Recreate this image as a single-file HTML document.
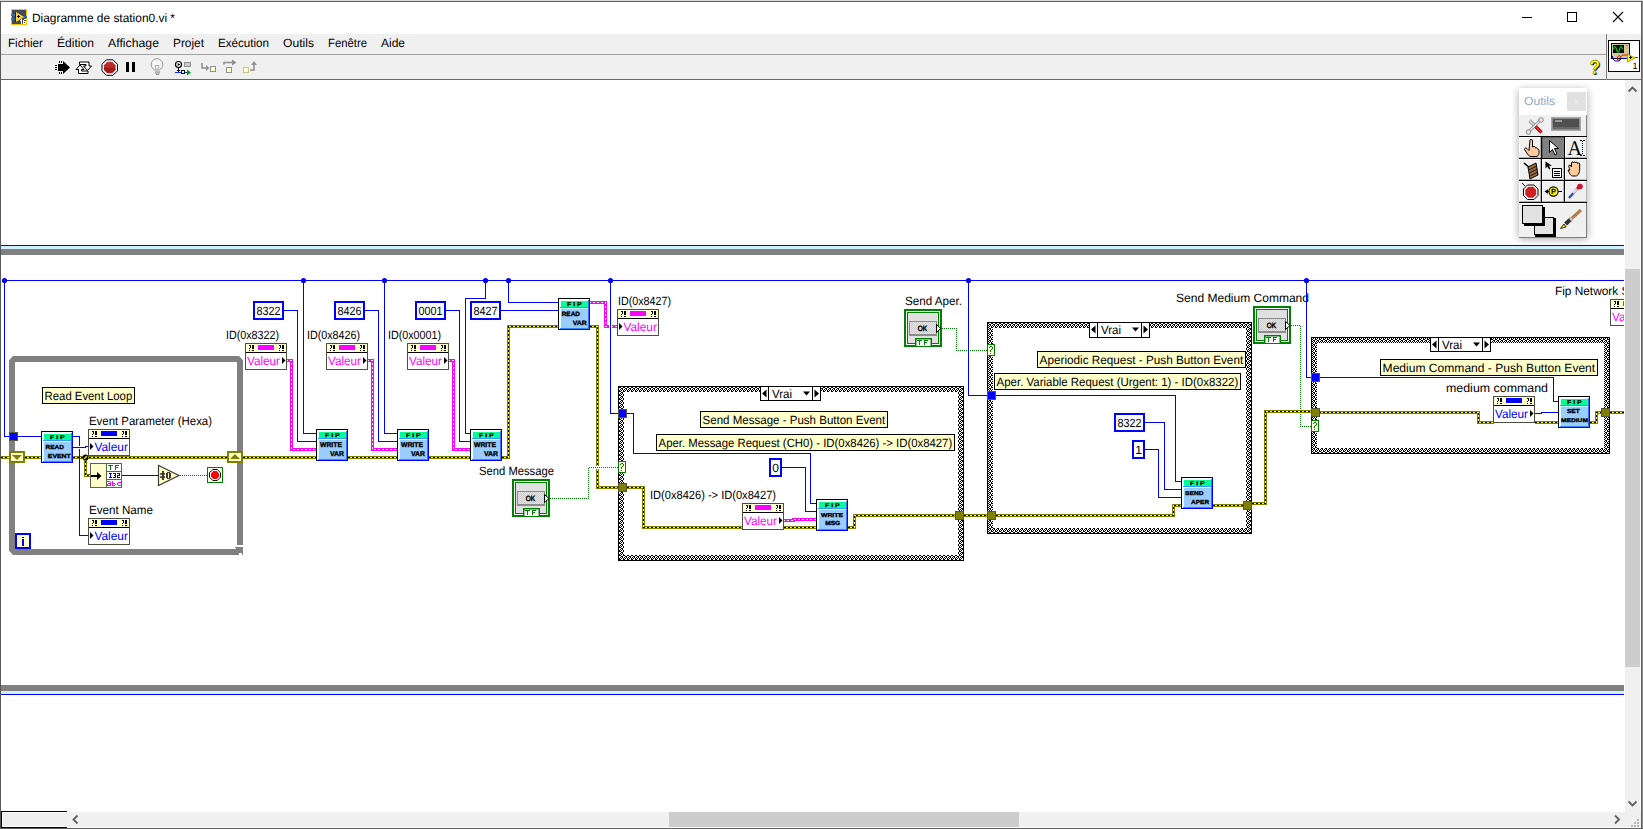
<!DOCTYPE html><html><head><meta charset="utf-8"><title>Diagramme de station0.vi</title><style>html,body{margin:0;padding:0;background:#fff;overflow:hidden}svg{display:block}</style></head><body><svg width="1643" height="829" viewBox="0 0 1643 829" shape-rendering="crispEdges" font-family="Liberation Sans, sans-serif" text-rendering="geometricPrecision">
<defs>
<pattern id="chk" x="0" y="3" width="4" height="4" patternUnits="userSpaceOnUse"><rect width="4" height="4" fill="#fff"/><path d="M0 0h1v1h-1zM3 0h1v1h-1zM1 1h2v1h-2zM0 2h1v1h-1zM2 2h1v1h-1zM1 3h1v1h-1zM3 3h1v1h-1z" fill="#000"/></pattern>
<pattern id="dith" width="2" height="2" patternUnits="userSpaceOnUse"><rect width="2" height="2" fill="#e6e6e6"/><rect width="1" height="1" fill="#cccccc"/><rect x="1" y="1" width="1" height="1" fill="#cccccc"/></pattern>
<filter id="sh" x="-30%" y="-20%" width="160%" height="140%"><feGaussianBlur stdDeviation="4"/></filter>
<linearGradient id="redg" x1="0" y1="0" x2="0" y2="1"><stop offset="0" stop-color="#c03030"/><stop offset="0.5" stop-color="#b82828"/><stop offset="0.55" stop-color="#9c1818"/><stop offset="1" stop-color="#a82020"/></linearGradient>
</defs>
<rect x="0" y="0" width="1643" height="829" fill="#fff" />
<rect x="1" y="34" width="1640" height="45" fill="#f0f0f0" />
<rect x="1" y="54" width="1605" height="1" fill="#a0a0a0" />
<rect x="1" y="79" width="1640" height="1" fill="#696969" />
<rect x="1606" y="34" width="1" height="46" fill="#808080" />
<rect x="0" y="0" width="1643" height="1" fill="#d9d9d9" />
<rect x="0" y="1" width="1643" height="1" fill="#636363" />
<rect x="0" y="1" width="1" height="829" fill="#585858" />
<rect x="1640" y="80" width="1" height="747" fill="#f8f8f8" />
<rect x="1641" y="1" width="1" height="829" fill="#606060" />
<rect x="1642" y="1" width="1" height="829" fill="#8c8c8c" />
<rect x="1" y="827" width="1640" height="1" fill="#fafafa" />
<rect x="0" y="828" width="1643" height="1" fill="#606060" />
<rect x="11" y="9" width="16" height="16" fill="#ffc000" />
<rect x="12" y="10" width="14" height="14" fill="#454a55" />
<rect x="11" y="14" width="4" height="2" fill="#2a6fb5" />
<rect x="11" y="18" width="4" height="2" fill="#2a6fb5" />
<rect x="23" y="16" width="4" height="2" fill="#2a6fb5" />
<rect x="15" y="12" width="1" height="10" fill="#222" />
<polygon points="16,12 16,22 24,17" fill="#ffd23c" shape-rendering="auto"/>
<rect x="17" y="16" width="3" height="1" fill="#000" />
<rect x="18" y="15" width="1" height="3" fill="#000" />
<rect x="21" y="19" width="1" height="5" fill="#fff" />
<rect x="20" y="20" width="1" height="1" fill="#fff" />
<rect x="24" y="19" width="2" height="1" fill="#fff" />
<rect x="23" y="20" width="1" height="4" fill="#fff" />
<rect x="24" y="21" width="2" height="1" fill="#fff" />
<rect x="25" y="22" width="1" height="1" fill="#fff" />
<rect x="24" y="23" width="2" height="1" fill="#fff" />
<text x="32" y="22" font-size="12" fill="#000" textLength="143" lengthAdjust="spacingAndGlyphs" >Diagramme de station0.vi *</text>
<rect x="1522" y="17" width="10" height="1" fill="#000" />
<rect x="1567.5" y="12.5" width="9" height="9" fill="none" stroke="#000" stroke-width="1"/>
<path d="M1613 12l10 10M1623 12l-10 10" stroke="#000" stroke-width="1.1" fill="none" shape-rendering="auto"/>
<text x="8" y="47" font-size="12" fill="#000" textLength="35" lengthAdjust="spacingAndGlyphs" >Fichier</text>
<text x="57" y="47" font-size="12" fill="#000" textLength="37" lengthAdjust="spacingAndGlyphs" >Édition</text>
<text x="108" y="47" font-size="12" fill="#000" textLength="51" lengthAdjust="spacingAndGlyphs" >Affichage</text>
<text x="173" y="47" font-size="12" fill="#000" textLength="31" lengthAdjust="spacingAndGlyphs" >Projet</text>
<text x="218" y="47" font-size="12" fill="#000" textLength="51" lengthAdjust="spacingAndGlyphs" >Exécution</text>
<text x="283" y="47" font-size="12" fill="#000" textLength="31" lengthAdjust="spacingAndGlyphs" >Outils</text>
<text x="328" y="47" font-size="12" fill="#000" textLength="39" lengthAdjust="spacingAndGlyphs" >Fenêtre</text>
<text x="381" y="47" font-size="12" fill="#000" textLength="24" lengthAdjust="spacingAndGlyphs" >Aide</text>
<path d="M58 64h5v-3l7 6.5l-7 6.5v-3h-5z" fill="#000" shape-rendering="auto"/>
<rect x="55" y="65" width="2" height="1" fill="#000" />
<rect x="55" y="67" width="2" height="1" fill="#000" />
<rect x="55" y="69" width="2" height="1" fill="#000" />
<rect x="59" y="61" width="1" height="2" fill="#000" />
<rect x="61" y="61" width="1" height="2" fill="#000" />
<rect x="59" y="72" width="1" height="2" fill="#000" />
<rect x="61" y="72" width="1" height="2" fill="#000" />
<g shape-rendering="auto" fill="#fff" stroke="#000" stroke-width="1"><path d="M79.500 62h9.500v4h2.500l-4 4.500l-4-4.500h2.500v-1.500h-6.500z"/><path d="M88 73.500h-9.500v-4h-2.500l4-4.500l4 4.500h-2.500v1.500h6.500z"/></g>
<g shape-rendering="auto"><polygon points="106.5,59.800 113,59.800 117.500,64.300 117.500,70.800 113,75.300 106.500,75.300 102,70.800 102,64.300" fill="#fff" stroke="#000" stroke-width="1"/><polygon points="107.300,61.800 112.200,61.800 115.600,65.200 115.600,69.900 112.200,73.300 107.300,73.300 103.900,69.900 103.900,65.200" fill="url(#redg)"/></g>
<rect x="126" y="62" width="3" height="10" fill="#000" />
<rect x="132" y="62" width="3" height="10" fill="#000" />
<g shape-rendering="auto" fill="none" stroke="#9a9a9a" stroke-width="1"><path d="M154.500 70c-2-1.500-3.300-3-3.300-5.500a5.800 5.800 0 0 1 11.600 0c0 2.500-1.300 4-3.300 5.500z" fill="#f4f4f4"/><path d="M155 65.500l1 4.500M159 65.500l-1 4.500M155 65.500h4" stroke="#b0b0b0"/></g>
<rect x="155" y="71" width="5" height="1" fill="#e8c040" />
<rect x="155" y="72" width="5" height="1" fill="#b0b0b0" />
<rect x="155" y="73" width="5" height="1" fill="#e8c040" />
<rect x="156" y="74" width="3" height="1" fill="#909090" />
<g shape-rendering="auto"><circle cx="178.500" cy="64.500" r="3" fill="#fff" stroke="#000" stroke-width="1.200"/><polygon points="177.700,63 180.300,64.500 177.700,66" fill="#000"/></g>
<rect x="178" y="68" width="1" height="4" fill="#000" />
<rect x="177" y="70" width="3" height="1" fill="#000" />
<rect x="184" y="62" width="7" height="5" fill="#909090" />
<rect x="185" y="63" width="5" height="3" fill="#c8c8c8" />
<rect x="175" y="72" width="12" height="1" fill="#0033ff" />
<rect x="181" y="70" width="4" height="4" fill="#000" />
<rect x="182" y="71" width="2" height="2" fill="#fff" />
<polygon points="187,69.500 191,72.500 187,75.500" fill="#00a000" shape-rendering="auto"/>
<g shape-rendering="auto" fill="none" stroke="#909090" stroke-width="1.600"><path d="M202 63v5h5"/><path d="M224 64.500v-2h9"/><path d="M250 70h4v-6"/></g>
<g shape-rendering="auto" fill="#909090"><polygon points="206,65 209.500,68 206,71"/><polygon points="232,59.500 236.500,62.500 232,65.500"/><polygon points="251,65 254,61 257,65"/></g>
<rect x="210" y="66" width="6" height="6" fill="#909090" />
<rect x="211" y="67" width="4" height="4" fill="#ffffcc" />
<rect x="226" y="67" width="6" height="6" fill="#909090" />
<rect x="227" y="68" width="4" height="4" fill="#ffffcc" />
<rect x="243" y="67" width="6" height="6" fill="#c8c890" />
<rect x="244" y="68" width="4" height="4" fill="#ffffcc" />
<text x="1590.6" y="74.6" font-size="20" fill="#222" textLength="10.5" lengthAdjust="spacingAndGlyphs" font-weight="bold" >?</text>
<text x="1589.6" y="73.6" font-size="20" fill="#ffff00" textLength="10.5" lengthAdjust="spacingAndGlyphs" font-weight="bold" stroke="#555500" stroke-width="0.400">?</text>
<rect x="1608" y="40" width="32" height="32" fill="#000" />
<rect x="1609" y="41" width="30" height="30" fill="#fff" />
<rect x="1611" y="43" width="19" height="16" fill="#000" />
<rect x="1612" y="44" width="17" height="14" fill="#cccc99" />
<rect x="1613" y="45" width="11" height="8" fill="#000" />
<path d="M1613.500 49.500q1.500-6 3 0t3 0t3 0" fill="none" stroke="#00d020" stroke-width="1.200" shape-rendering="auto"/>
<rect x="1626" y="46" width="2" height="3" fill="#e8b080" />
<rect x="1626" y="45" width="1" height="1" fill="#888" />
<rect x="1627" y="45" width="1" height="1" fill="#888" />
<path d="M1612.500 56v2.500l2.500 2.500h4l2.500-2.500" fill="none" stroke="#0000c0" stroke-width="1" shape-rendering="auto"/>
<path d="M1617.500 60c-1-3 2-6 3-3.500s-2 4-3 3.500M1620 57.500l2.500-2.500h5" fill="none" stroke="#ff0000" stroke-width="1" shape-rendering="auto"/>
<rect x="1620" y="58" width="8" height="1" fill="#0000a0" />
<polygon points="1627.500,54 1627.500,62 1635,58" fill="#ffff00" stroke="#a0a000" stroke-width="1" shape-rendering="auto"/>
<rect x="1629" y="57" width="3" height="1" fill="#000" />
<rect x="1630" y="56" width="1" height="3" fill="#000" />
<rect x="1635" y="57" width="3" height="1" fill="#ff0000" />
<text x="1632.5" y="69" font-size="9" fill="#000" >1</text>
<rect x="1625" y="80" width="15" height="732" fill="#f0f0f0" />
<rect x="1625" y="269" width="15" height="398" fill="#cdcdcd" />
<path d="M1628.500 91.500l4-4l4 4" fill="none" stroke="#606060" stroke-width="1.800" shape-rendering="auto"/>
<path d="M1628.500 801.500l4 4l4-4" fill="none" stroke="#606060" stroke-width="1.800" shape-rendering="auto"/>
<rect x="1" y="812" width="1640" height="15" fill="#f0f0f0" />
<rect x="669" y="812" width="350" height="15" fill="#cdcdcd" />
<path d="M77.500 815.500l-4 4l4 4" fill="none" stroke="#606060" stroke-width="1.800" shape-rendering="auto"/>
<path d="M1615 815.500l4 4l-4 4" fill="none" stroke="#606060" stroke-width="1.800" shape-rendering="auto"/>
<rect x="1" y="811" width="66" height="17" fill="#000" />
<rect x="2" y="812" width="65" height="15" fill="#fff" />
<rect x="3" y="813" width="64" height="13" fill="#efefef" />
<rect x="1637" y="819" width="2" height="2" fill="#b4b4b4" />
<rect x="1634" y="822" width="2" height="2" fill="#b4b4b4" />
<rect x="1637" y="822" width="2" height="2" fill="#b4b4b4" />
<rect x="1631" y="825" width="2" height="2" fill="#b4b4b4" />
<rect x="1634" y="825" width="2" height="2" fill="#b4b4b4" />
<rect x="1637" y="825" width="2" height="2" fill="#b4b4b4" />
<clipPath id="dclip"><rect x="1" y="80" width="1623" height="731"/></clipPath>
<g clip-path="url(#dclip)">
<rect x="1" y="245" width="1623" height="1" fill="#0000ff" />
<rect x="1" y="246" width="1623" height="3" fill="#d0f0ff" />
<rect x="1" y="249" width="1623" height="6" fill="#808080" />
<rect x="1" y="685" width="1623" height="6" fill="#808080" />
<rect x="1" y="691" width="1623" height="3" fill="#d0f0ff" />
<rect x="1" y="694" width="1623" height="1" fill="#0000ff" />
<polyline points="4.5,437 4.5,280.5 1631,280.5" fill="none" stroke-linejoin="miter" stroke-linecap="butt" stroke="#0000ff" stroke-width="1"/>
<polyline points="4,436.5 10,436.5" fill="none" stroke-linejoin="miter" stroke-linecap="butt" stroke="#0000ff" stroke-width="1"/>
<circle cx="4.5" cy="280.5" r="2.6" fill="#0000ff" shape-rendering="auto"/>
<circle cx="303.5" cy="280.5" r="2.6" fill="#0000ff" shape-rendering="auto"/>
<circle cx="384.5" cy="280.5" r="2.6" fill="#0000ff" shape-rendering="auto"/>
<circle cx="485.5" cy="280.5" r="2.6" fill="#0000ff" shape-rendering="auto"/>
<circle cx="508.5" cy="280.5" r="2.6" fill="#0000ff" shape-rendering="auto"/>
<circle cx="610.5" cy="280.5" r="2.6" fill="#0000ff" shape-rendering="auto"/>
<circle cx="968.5" cy="280.5" r="2.6" fill="#0000ff" shape-rendering="auto"/>
<circle cx="1306.5" cy="280.5" r="2.6" fill="#0000ff" shape-rendering="auto"/>
<rect x="9" y="356" width="234" height="6" fill="#808080" />
<rect x="9" y="356" width="6" height="199" fill="#808080" />
<rect x="9" y="549" width="234" height="6" fill="#808080" />
<rect x="237" y="356" width="6" height="189" fill="#808080" />
<rect x="236" y="547" width="7" height="8" fill="#808080" />
<rect x="239" y="553" width="3" height="2" fill="#fff" />
<rect x="235" y="547" width="2" height="1" fill="#808080" />
<g shape-rendering="auto" fill="#fff"><polygon points="8,355 13.800,355 8,361.500"/><polygon points="244,355 238.200,355 244,361.500"/><polygon points="8,556 13.800,556 8,549.500"/></g>
<polyline points="1,457.5 10,457.5" fill="none" stroke-linejoin="miter" stroke-linecap="butt" stroke="#808000" stroke-width="3"/>
<polyline points="1,457.5 10,457.5" fill="none" stroke-linejoin="miter" stroke-linecap="butt" stroke="#ffff00" stroke-width="1"/>
<polyline points="1,457.5 10,457.5" fill="none" stroke-linejoin="miter" stroke-linecap="butt" stroke="#000" stroke-width="1" stroke-dasharray="2 2"/>
<polyline points="25,457.5 42,457.5" fill="none" stroke-linejoin="miter" stroke-linecap="butt" stroke="#808000" stroke-width="3"/>
<polyline points="25,457.5 42,457.5" fill="none" stroke-linejoin="miter" stroke-linecap="butt" stroke="#ffff00" stroke-width="1"/>
<polyline points="25,457.5 42,457.5" fill="none" stroke-linejoin="miter" stroke-linecap="butt" stroke="#000" stroke-width="1" stroke-dasharray="2 2"/>
<polyline points="73,457.5 228,457.5" fill="none" stroke-linejoin="miter" stroke-linecap="butt" stroke="#808000" stroke-width="3"/>
<polyline points="73,457.5 228,457.5" fill="none" stroke-linejoin="miter" stroke-linecap="butt" stroke="#ffff00" stroke-width="1"/>
<polyline points="73,457.5 228,457.5" fill="none" stroke-linejoin="miter" stroke-linecap="butt" stroke="#000" stroke-width="1" stroke-dasharray="2 2"/>
<polyline points="85.5,457 85.5,475.5 91,475.5" fill="none" stroke-linejoin="miter" stroke-linecap="butt" stroke="#808000" stroke-width="3"/>
<polyline points="85.5,457 85.5,475.5 91,475.5" fill="none" stroke-linejoin="miter" stroke-linecap="butt" stroke="#ffff00" stroke-width="1"/>
<polyline points="85.5,457 85.5,475.5 91,475.5" fill="none" stroke-linejoin="miter" stroke-linecap="butt" stroke="#000" stroke-width="1" stroke-dasharray="2 2"/>
<polyline points="243,457.5 317,457.5" fill="none" stroke-linejoin="miter" stroke-linecap="butt" stroke="#808000" stroke-width="3"/>
<polyline points="243,457.5 317,457.5" fill="none" stroke-linejoin="miter" stroke-linecap="butt" stroke="#ffff00" stroke-width="1"/>
<polyline points="243,457.5 317,457.5" fill="none" stroke-linejoin="miter" stroke-linecap="butt" stroke="#000" stroke-width="1" stroke-dasharray="2 2"/>
<polyline points="348,457.5 398,457.5" fill="none" stroke-linejoin="miter" stroke-linecap="butt" stroke="#808000" stroke-width="3"/>
<polyline points="348,457.5 398,457.5" fill="none" stroke-linejoin="miter" stroke-linecap="butt" stroke="#ffff00" stroke-width="1"/>
<polyline points="348,457.5 398,457.5" fill="none" stroke-linejoin="miter" stroke-linecap="butt" stroke="#000" stroke-width="1" stroke-dasharray="2 2"/>
<polyline points="429,457.5 471,457.5" fill="none" stroke-linejoin="miter" stroke-linecap="butt" stroke="#808000" stroke-width="3"/>
<polyline points="429,457.5 471,457.5" fill="none" stroke-linejoin="miter" stroke-linecap="butt" stroke="#ffff00" stroke-width="1"/>
<polyline points="429,457.5 471,457.5" fill="none" stroke-linejoin="miter" stroke-linecap="butt" stroke="#000" stroke-width="1" stroke-dasharray="2 2"/>
<polyline points="502,457.5 508.5,457.5 508.5,326.5 559,326.5" fill="none" stroke-linejoin="miter" stroke-linecap="butt" stroke="#808000" stroke-width="3"/>
<polyline points="502,457.5 508.5,457.5 508.5,326.5 559,326.5" fill="none" stroke-linejoin="miter" stroke-linecap="butt" stroke="#ffff00" stroke-width="1"/>
<polyline points="502,457.5 508.5,457.5 508.5,326.5 559,326.5" fill="none" stroke-linejoin="miter" stroke-linecap="butt" stroke="#000" stroke-width="1" stroke-dasharray="2 2"/>
<polyline points="590,326.5 597.5,326.5 597.5,487.5 619,487.5" fill="none" stroke-linejoin="miter" stroke-linecap="butt" stroke="#808000" stroke-width="3"/>
<polyline points="590,326.5 597.5,326.5 597.5,487.5 619,487.5" fill="none" stroke-linejoin="miter" stroke-linecap="butt" stroke="#ffff00" stroke-width="1"/>
<polyline points="590,326.5 597.5,326.5 597.5,487.5 619,487.5" fill="none" stroke-linejoin="miter" stroke-linecap="butt" stroke="#000" stroke-width="1" stroke-dasharray="2 2"/>
<circle cx="85.500" cy="457.500" r="2.900" fill="#000" shape-rendering="auto"/>
<path d="M84.200 458.800l2.600-2.600" stroke="#ffff00" stroke-width="1.300" shape-rendering="auto"/>
<polyline points="17,436.5 42,436.5" fill="none" stroke-linejoin="miter" stroke-linecap="butt" stroke="#0000ff" stroke-width="1"/>
<polyline points="73,436.5 79.5,436.5 79.5,535.5 89,535.5" fill="none" stroke-linejoin="miter" stroke-linecap="butt" stroke="#0000ff" stroke-width="1"/>
<rect x="79" y="446" width="1" height="3" fill="#fff" />
<polyline points="73,447.5 85.5,447.5 85.5,446.5 89,446.5" fill="none" stroke-linejoin="miter" stroke-linecap="butt" stroke="#0000ff" stroke-width="1"/>
<polyline points="122,475.5 159,475.5" fill="none" stroke-linejoin="miter" stroke-linecap="butt" stroke="#0000ff" stroke-width="1"/>
<polyline points="180,475.5 208,475.5" fill="none" stroke-linejoin="miter" stroke-linecap="butt" stroke="#008000" stroke-width="1" stroke-dasharray="1 1"/>
<rect x="9" y="451" width="16" height="12" fill="#808000" />
<rect x="11" y="453" width="12" height="8" fill="#ffffcc" />
<polygon points="12,455 22,455 17,460" fill="#808000" shape-rendering="auto"/>
<rect x="227" y="451" width="16" height="12" fill="#808000" />
<rect x="229" y="453" width="12" height="8" fill="#ffffcc" />
<polygon points="230,459 240,459 235,454" fill="#808000" shape-rendering="auto"/>
<rect x="41" y="431" width="32" height="32" fill="#99ccff" />
<rect x="41" y="431" width="32" height="1" fill="#000" />
<rect x="41" y="431" width="1" height="32" fill="#000" />
<rect x="42" y="432" width="30" height="2" fill="#ffffff" />
<rect x="42" y="432" width="2" height="30" fill="#e6ffff" />
<rect x="44" y="434" width="27" height="6" fill="#00ff99" />
<rect x="43" y="440" width="28" height="1" fill="#3399ff" />
<rect x="43" y="441" width="28" height="1" fill="#ccffff" />
<rect x="71" y="433" width="1" height="29" fill="#3a6cff" />
<rect x="43" y="461" width="29" height="1" fill="#3388ff" />
<rect x="72" y="432" width="1" height="31" fill="#0000ff" />
<rect x="42" y="462" width="31" height="1" fill="#0000ff" />
<text x="50" y="439" font-size="5.5" fill="#000" textLength="14.7" lengthAdjust="spacingAndGlyphs" font-weight="bold" stroke="#000" stroke-width="0.3">F I P</text>
<text x="45.4" y="448.7" font-size="6" fill="#000" textLength="18.6" lengthAdjust="spacingAndGlyphs" font-weight="bold" stroke="#000" stroke-width="0.35">READ</text>
<text x="47.8" y="457.8" font-size="6" fill="#000" textLength="23" lengthAdjust="spacingAndGlyphs" font-weight="bold" stroke="#000" stroke-width="0.35">EVENT</text>
<rect x="42" y="387" width="93" height="17" fill="#000" />
<rect x="43" y="388" width="91" height="15" fill="#ffffcc" />
<text x="44.6" y="400" font-size="12" fill="#000" textLength="87.6" lengthAdjust="spacingAndGlyphs" >Read Event Loop</text>
<text x="89" y="425" font-size="12" fill="#000" textLength="123" lengthAdjust="spacingAndGlyphs" >Event Parameter (Hexa)</text>
<rect x="88" y="429" width="42" height="27" fill="#4d4d40" />
<rect x="89" y="430" width="40" height="8" fill="#ffffcc" />
<rect x="101" y="430" width="16" height="8" fill="#fff" />
<rect x="101" y="431" width="16" height="5" fill="#0000ff" />
<rect x="89" y="438" width="40" height="1" fill="#000" />
<rect x="89" y="439" width="40" height="16" fill="#fff" />
<rect x="92" y="431" width="2" height="1" fill="#000" />
<rect x="93" y="432" width="1" height="2" fill="#000" />
<rect x="92" y="434" width="1" height="1" fill="#000" />
<rect x="92" y="436" width="1" height="1" fill="#000" />
<rect x="95" y="431" width="2" height="4" fill="#000" />
<rect x="95" y="436" width="2" height="1" fill="#000" />
<rect x="122" y="431" width="2" height="1" fill="#000" />
<rect x="123" y="432" width="1" height="2" fill="#000" />
<rect x="122" y="434" width="1" height="1" fill="#000" />
<rect x="122" y="436" width="1" height="1" fill="#000" />
<rect x="125" y="431" width="2" height="4" fill="#000" />
<rect x="125" y="436" width="2" height="1" fill="#000" />
<text x="94.4" y="451" font-size="12" fill="#0000ff" textLength="33.5" lengthAdjust="spacingAndGlyphs" >Valeur</text>
<polygon points="90,443 93.5,446.5 90,450" fill="#000" shape-rendering="auto"/>
<text x="89" y="513.7" font-size="12" fill="#000" textLength="64" lengthAdjust="spacingAndGlyphs" >Event Name</text>
<rect x="88" y="518" width="42" height="27" fill="#4d4d40" />
<rect x="89" y="519" width="40" height="8" fill="#ffffcc" />
<rect x="101" y="519" width="16" height="8" fill="#fff" />
<rect x="101" y="520" width="16" height="5" fill="#0000ff" />
<rect x="89" y="527" width="40" height="1" fill="#000" />
<rect x="89" y="528" width="40" height="16" fill="#fff" />
<rect x="92" y="520" width="2" height="1" fill="#000" />
<rect x="93" y="521" width="1" height="2" fill="#000" />
<rect x="92" y="523" width="1" height="1" fill="#000" />
<rect x="92" y="525" width="1" height="1" fill="#000" />
<rect x="95" y="520" width="2" height="4" fill="#000" />
<rect x="95" y="525" width="2" height="1" fill="#000" />
<rect x="122" y="520" width="2" height="1" fill="#000" />
<rect x="123" y="521" width="1" height="2" fill="#000" />
<rect x="122" y="523" width="1" height="1" fill="#000" />
<rect x="122" y="525" width="1" height="1" fill="#000" />
<rect x="125" y="520" width="2" height="4" fill="#000" />
<rect x="125" y="525" width="2" height="1" fill="#000" />
<text x="94.4" y="540" font-size="12" fill="#0000ff" textLength="33.5" lengthAdjust="spacingAndGlyphs" >Valeur</text>
<polygon points="90,532 93.5,535.5 90,539" fill="#000" shape-rendering="auto"/>
<rect x="90" y="463" width="32" height="25" fill="#606050" />
<rect x="91" y="464" width="15" height="23" fill="#ffffcc" />
<rect x="107" y="464" width="14" height="7" fill="#fff" />
<rect x="107" y="472" width="14" height="7" fill="#fff" />
<rect x="107" y="480" width="14" height="7" fill="#fff" />
<rect x="91" y="475" width="8" height="2" fill="#000" />
<polygon points="97,472 101.500,476 97,480" fill="#000" shape-rendering="auto"/>
<rect x="108" y="465" width="5" height="1" fill="#008000" />
<rect x="110" y="466" width="1" height="1" fill="#008000" />
<rect x="110" y="467" width="1" height="1" fill="#008000" />
<rect x="110" y="468" width="1" height="1" fill="#008000" />
<rect x="110" y="469" width="1" height="1" fill="#008000" />
<rect x="115" y="465" width="4" height="1" fill="#008000" />
<rect x="115" y="466" width="1" height="1" fill="#008000" />
<rect x="115" y="467" width="3" height="1" fill="#008000" />
<rect x="115" y="468" width="1" height="1" fill="#008000" />
<rect x="115" y="469" width="1" height="1" fill="#008000" />
<rect x="109" y="473" width="3" height="1" fill="#0000ff" />
<rect x="110" y="474" width="1" height="1" fill="#0000ff" />
<rect x="110" y="475" width="1" height="1" fill="#0000ff" />
<rect x="110" y="476" width="1" height="1" fill="#0000ff" />
<rect x="109" y="477" width="3" height="1" fill="#0000ff" />
<rect x="113" y="473" width="3" height="1" fill="#0000ff" />
<rect x="115" y="474" width="1" height="1" fill="#0000ff" />
<rect x="114" y="475" width="2" height="1" fill="#0000ff" />
<rect x="115" y="476" width="1" height="1" fill="#0000ff" />
<rect x="113" y="477" width="3" height="1" fill="#0000ff" />
<rect x="117" y="473" width="3" height="1" fill="#0000ff" />
<rect x="119" y="474" width="1" height="1" fill="#0000ff" />
<rect x="117" y="475" width="3" height="1" fill="#0000ff" />
<rect x="117" y="476" width="1" height="1" fill="#0000ff" />
<rect x="117" y="477" width="3" height="1" fill="#0000ff" />
<rect x="107" y="481" width="3" height="1" fill="#ff00ff" />
<rect x="110" y="482" width="1" height="1" fill="#ff00ff" />
<rect x="108" y="483" width="3" height="1" fill="#ff00ff" />
<rect x="107" y="484" width="1" height="1" fill="#ff00ff" />
<rect x="110" y="484" width="1" height="1" fill="#ff00ff" />
<rect x="107" y="485" width="4" height="1" fill="#ff00ff" />
<rect x="112" y="481" width="1" height="1" fill="#ff00ff" />
<rect x="112" y="482" width="1" height="1" fill="#ff00ff" />
<rect x="112" y="483" width="3" height="1" fill="#ff00ff" />
<rect x="112" y="484" width="1" height="1" fill="#ff00ff" />
<rect x="115" y="484" width="1" height="1" fill="#ff00ff" />
<rect x="112" y="485" width="3" height="1" fill="#ff00ff" />
<rect x="118" y="482" width="3" height="1" fill="#ff00ff" />
<rect x="117" y="483" width="1" height="1" fill="#ff00ff" />
<rect x="117" y="484" width="1" height="1" fill="#ff00ff" />
<rect x="118" y="485" width="3" height="1" fill="#ff00ff" />
<polygon points="158.500,465.500 158.500,485.500 179,475.500" fill="#ffffcc" stroke="#3c3c30" stroke-width="1.200" shape-rendering="auto"/>
<rect x="162" y="471" width="2" height="9" fill="#3c3c32" />
<rect x="160" y="473.100" width="5" height="1.600" fill="#3c3c32" shape-rendering="auto"/><rect x="160" y="476.300" width="5" height="1.600" fill="#3c3c32" shape-rendering="auto"/>
<rect x="167" y="472" width="3" height="1" fill="#3c3c32" />
<rect x="166" y="473" width="2" height="5" fill="#3c3c32" />
<rect x="169" y="473" width="2" height="5" fill="#3c3c32" />
<rect x="167" y="478" width="3" height="1" fill="#3c3c32" />
<rect x="207" y="467" width="16" height="16" fill="#008000" />
<rect x="208" y="468" width="14" height="14" fill="#ffffe6" />
<g shape-rendering="auto"><polygon points="212.800,469.500 217.200,469.500 220.500,472.800 220.500,477.200 217.200,480.500 212.800,480.500 209.500,477.200 209.500,472.800" fill="#fff" stroke="#000" stroke-width="1"/><polygon points="213.400,471 216.600,471 219,473.400 219,476.600 216.600,479 213.400,479 211,476.600 211,473.400" fill="#ff0000"/></g>
<rect x="15" y="533" width="16" height="16" fill="#0000ff" />
<rect x="17" y="535" width="12" height="12" fill="#ffffcc" />
<rect x="22" y="537" width="2" height="1" fill="#0000ff" />
<rect x="22" y="539" width="2" height="7" fill="#0000ff" />
<rect x="253" y="301" width="31" height="19" fill="#0000ff" />
<rect x="255" y="303" width="27" height="15" fill="#fff" />
<text x="268.5" y="314.6" font-size="12" fill="#000" textLength="24" lengthAdjust="spacingAndGlyphs" text-anchor="middle" >8322</text>
<text x="226" y="339" font-size="12" fill="#000" textLength="53" lengthAdjust="spacingAndGlyphs" >ID(0x8322)</text>
<rect x="245" y="343" width="42" height="27" fill="#4d4d40" />
<rect x="246" y="344" width="40" height="8" fill="#ffffcc" />
<rect x="258" y="344" width="16" height="8" fill="#fff" />
<rect x="258" y="345" width="16" height="5" fill="#ff00ff" />
<rect x="246" y="352" width="40" height="1" fill="#000" />
<rect x="246" y="353" width="40" height="16" fill="#fff" />
<rect x="249" y="345" width="2" height="1" fill="#000" />
<rect x="250" y="346" width="1" height="2" fill="#000" />
<rect x="249" y="348" width="1" height="1" fill="#000" />
<rect x="249" y="350" width="1" height="1" fill="#000" />
<rect x="252" y="345" width="2" height="4" fill="#000" />
<rect x="252" y="350" width="2" height="1" fill="#000" />
<rect x="279" y="345" width="2" height="1" fill="#000" />
<rect x="280" y="346" width="1" height="2" fill="#000" />
<rect x="279" y="348" width="1" height="1" fill="#000" />
<rect x="279" y="350" width="1" height="1" fill="#000" />
<rect x="282" y="345" width="2" height="4" fill="#000" />
<rect x="282" y="350" width="2" height="1" fill="#000" />
<text x="247" y="365" font-size="12" fill="#ff00ff" textLength="33" lengthAdjust="spacingAndGlyphs" >Valeur</text>
<polygon points="282,357 285.5,360.5 282,364" fill="#000" shape-rendering="auto"/>
<polyline points="284,310.5 297.5,310.5 297.5,441.5 317,441.5" fill="none" stroke-linejoin="miter" stroke-linecap="butt" stroke="#0000ff" stroke-width="1"/>
<polyline points="287,360.5 291.5,360.5 291.5,449.5 317,449.5" fill="none" stroke-linejoin="miter" stroke-linecap="butt" stroke="#ff00ff" stroke-width="3"/>
<polyline points="287,360.5 291.5,360.5 291.5,449.5 317,449.5" fill="none" stroke-linejoin="miter" stroke-linecap="butt" stroke="#fff" stroke-width="1" stroke-dasharray="2 2" stroke-dashoffset="1"/>
<rect x="316" y="429" width="32" height="32" fill="#99ccff" />
<rect x="316" y="429" width="32" height="1" fill="#000" />
<rect x="316" y="429" width="1" height="32" fill="#000" />
<rect x="317" y="430" width="30" height="2" fill="#ffffff" />
<rect x="317" y="430" width="2" height="30" fill="#e6ffff" />
<rect x="319" y="432" width="27" height="6" fill="#00ff99" />
<rect x="318" y="438" width="28" height="1" fill="#3399ff" />
<rect x="318" y="439" width="28" height="1" fill="#ccffff" />
<rect x="346" y="431" width="1" height="29" fill="#3a6cff" />
<rect x="318" y="459" width="29" height="1" fill="#3388ff" />
<rect x="347" y="430" width="1" height="31" fill="#0000ff" />
<rect x="317" y="460" width="31" height="1" fill="#0000ff" />
<text x="325" y="437" font-size="5.5" fill="#000" textLength="14.7" lengthAdjust="spacingAndGlyphs" font-weight="bold" stroke="#000" stroke-width="0.3">F I P</text>
<text x="320" y="447" font-size="7" fill="#000" textLength="22" lengthAdjust="spacingAndGlyphs" font-weight="bold" stroke="#000" stroke-width="0.35">WRITE</text>
<text x="330" y="456" font-size="7" fill="#000" textLength="14" lengthAdjust="spacingAndGlyphs" font-weight="bold" stroke="#000" stroke-width="0.35">VAR</text>
<rect x="334" y="301" width="31" height="19" fill="#0000ff" />
<rect x="336" y="303" width="27" height="15" fill="#fff" />
<text x="349.5" y="314.6" font-size="12" fill="#000" textLength="24" lengthAdjust="spacingAndGlyphs" text-anchor="middle" >8426</text>
<text x="307" y="339" font-size="12" fill="#000" textLength="53" lengthAdjust="spacingAndGlyphs" >ID(0x8426)</text>
<rect x="326" y="343" width="42" height="27" fill="#4d4d40" />
<rect x="327" y="344" width="40" height="8" fill="#ffffcc" />
<rect x="339" y="344" width="16" height="8" fill="#fff" />
<rect x="339" y="345" width="16" height="5" fill="#ff00ff" />
<rect x="327" y="352" width="40" height="1" fill="#000" />
<rect x="327" y="353" width="40" height="16" fill="#fff" />
<rect x="330" y="345" width="2" height="1" fill="#000" />
<rect x="331" y="346" width="1" height="2" fill="#000" />
<rect x="330" y="348" width="1" height="1" fill="#000" />
<rect x="330" y="350" width="1" height="1" fill="#000" />
<rect x="333" y="345" width="2" height="4" fill="#000" />
<rect x="333" y="350" width="2" height="1" fill="#000" />
<rect x="360" y="345" width="2" height="1" fill="#000" />
<rect x="361" y="346" width="1" height="2" fill="#000" />
<rect x="360" y="348" width="1" height="1" fill="#000" />
<rect x="360" y="350" width="1" height="1" fill="#000" />
<rect x="363" y="345" width="2" height="4" fill="#000" />
<rect x="363" y="350" width="2" height="1" fill="#000" />
<text x="328" y="365" font-size="12" fill="#ff00ff" textLength="33" lengthAdjust="spacingAndGlyphs" >Valeur</text>
<polygon points="363,357 366.5,360.5 363,364" fill="#000" shape-rendering="auto"/>
<polyline points="365,310.5 378.5,310.5 378.5,441.5 398,441.5" fill="none" stroke-linejoin="miter" stroke-linecap="butt" stroke="#0000ff" stroke-width="1"/>
<polyline points="368,360.5 372.5,360.5 372.5,449.5 398,449.5" fill="none" stroke-linejoin="miter" stroke-linecap="butt" stroke="#ff00ff" stroke-width="3"/>
<polyline points="368,360.5 372.5,360.5 372.5,449.5 398,449.5" fill="none" stroke-linejoin="miter" stroke-linecap="butt" stroke="#fff" stroke-width="1" stroke-dasharray="2 2" stroke-dashoffset="1"/>
<rect x="397" y="429" width="32" height="32" fill="#99ccff" />
<rect x="397" y="429" width="32" height="1" fill="#000" />
<rect x="397" y="429" width="1" height="32" fill="#000" />
<rect x="398" y="430" width="30" height="2" fill="#ffffff" />
<rect x="398" y="430" width="2" height="30" fill="#e6ffff" />
<rect x="400" y="432" width="27" height="6" fill="#00ff99" />
<rect x="399" y="438" width="28" height="1" fill="#3399ff" />
<rect x="399" y="439" width="28" height="1" fill="#ccffff" />
<rect x="427" y="431" width="1" height="29" fill="#3a6cff" />
<rect x="399" y="459" width="29" height="1" fill="#3388ff" />
<rect x="428" y="430" width="1" height="31" fill="#0000ff" />
<rect x="398" y="460" width="31" height="1" fill="#0000ff" />
<text x="406" y="437" font-size="5.5" fill="#000" textLength="14.7" lengthAdjust="spacingAndGlyphs" font-weight="bold" stroke="#000" stroke-width="0.3">F I P</text>
<text x="401" y="447" font-size="7" fill="#000" textLength="22" lengthAdjust="spacingAndGlyphs" font-weight="bold" stroke="#000" stroke-width="0.35">WRITE</text>
<text x="411" y="456" font-size="7" fill="#000" textLength="14" lengthAdjust="spacingAndGlyphs" font-weight="bold" stroke="#000" stroke-width="0.35">VAR</text>
<rect x="415" y="301" width="31" height="19" fill="#0000ff" />
<rect x="417" y="303" width="27" height="15" fill="#fff" />
<text x="430.5" y="314.6" font-size="12" fill="#000" textLength="24" lengthAdjust="spacingAndGlyphs" text-anchor="middle" >0001</text>
<text x="388" y="339" font-size="12" fill="#000" textLength="53" lengthAdjust="spacingAndGlyphs" >ID(0x0001)</text>
<rect x="407" y="343" width="42" height="27" fill="#4d4d40" />
<rect x="408" y="344" width="40" height="8" fill="#ffffcc" />
<rect x="420" y="344" width="16" height="8" fill="#fff" />
<rect x="420" y="345" width="16" height="5" fill="#ff00ff" />
<rect x="408" y="352" width="40" height="1" fill="#000" />
<rect x="408" y="353" width="40" height="16" fill="#fff" />
<rect x="411" y="345" width="2" height="1" fill="#000" />
<rect x="412" y="346" width="1" height="2" fill="#000" />
<rect x="411" y="348" width="1" height="1" fill="#000" />
<rect x="411" y="350" width="1" height="1" fill="#000" />
<rect x="414" y="345" width="2" height="4" fill="#000" />
<rect x="414" y="350" width="2" height="1" fill="#000" />
<rect x="441" y="345" width="2" height="1" fill="#000" />
<rect x="442" y="346" width="1" height="2" fill="#000" />
<rect x="441" y="348" width="1" height="1" fill="#000" />
<rect x="441" y="350" width="1" height="1" fill="#000" />
<rect x="444" y="345" width="2" height="4" fill="#000" />
<rect x="444" y="350" width="2" height="1" fill="#000" />
<text x="409" y="365" font-size="12" fill="#ff00ff" textLength="33" lengthAdjust="spacingAndGlyphs" >Valeur</text>
<polygon points="444,357 447.5,360.5 444,364" fill="#000" shape-rendering="auto"/>
<polyline points="446,310.5 459.5,310.5 459.5,441.5 471,441.5" fill="none" stroke-linejoin="miter" stroke-linecap="butt" stroke="#0000ff" stroke-width="1"/>
<polyline points="449,360.5 453.5,360.5 453.5,449.5 471,449.5" fill="none" stroke-linejoin="miter" stroke-linecap="butt" stroke="#ff00ff" stroke-width="3"/>
<polyline points="449,360.5 453.5,360.5 453.5,449.5 471,449.5" fill="none" stroke-linejoin="miter" stroke-linecap="butt" stroke="#fff" stroke-width="1" stroke-dasharray="2 2" stroke-dashoffset="1"/>
<rect x="470" y="429" width="32" height="32" fill="#99ccff" />
<rect x="470" y="429" width="32" height="1" fill="#000" />
<rect x="470" y="429" width="1" height="32" fill="#000" />
<rect x="471" y="430" width="30" height="2" fill="#ffffff" />
<rect x="471" y="430" width="2" height="30" fill="#e6ffff" />
<rect x="473" y="432" width="27" height="6" fill="#00ff99" />
<rect x="472" y="438" width="28" height="1" fill="#3399ff" />
<rect x="472" y="439" width="28" height="1" fill="#ccffff" />
<rect x="500" y="431" width="1" height="29" fill="#3a6cff" />
<rect x="472" y="459" width="29" height="1" fill="#3388ff" />
<rect x="501" y="430" width="1" height="31" fill="#0000ff" />
<rect x="471" y="460" width="31" height="1" fill="#0000ff" />
<text x="479" y="437" font-size="5.5" fill="#000" textLength="14.7" lengthAdjust="spacingAndGlyphs" font-weight="bold" stroke="#000" stroke-width="0.3">F I P</text>
<text x="474" y="447" font-size="7" fill="#000" textLength="22" lengthAdjust="spacingAndGlyphs" font-weight="bold" stroke="#000" stroke-width="0.35">WRITE</text>
<text x="484" y="456" font-size="7" fill="#000" textLength="14" lengthAdjust="spacingAndGlyphs" font-weight="bold" stroke="#000" stroke-width="0.35">VAR</text>
<polyline points="303.5,280 303.5,433.5 317,433.5" fill="none" stroke-linejoin="miter" stroke-linecap="butt" stroke="#0000ff" stroke-width="1"/>
<polyline points="384.5,280 384.5,433.5 398,433.5" fill="none" stroke-linejoin="miter" stroke-linecap="butt" stroke="#0000ff" stroke-width="1"/>
<polyline points="485.5,280 485.5,298.5 465.5,298.5 465.5,433.5 471,433.5" fill="none" stroke-linejoin="miter" stroke-linecap="butt" stroke="#0000ff" stroke-width="1"/>
<rect x="470" y="301" width="31" height="19" fill="#0000ff" />
<rect x="472" y="303" width="27" height="15" fill="#fff" />
<text x="485.5" y="314.6" font-size="12" fill="#000" textLength="24" lengthAdjust="spacingAndGlyphs" text-anchor="middle" >8427</text>
<polyline points="501,310.5 559,310.5" fill="none" stroke-linejoin="miter" stroke-linecap="butt" stroke="#0000ff" stroke-width="1"/>
<polyline points="508.5,280 508.5,302.5 559,302.5" fill="none" stroke-linejoin="miter" stroke-linecap="butt" stroke="#0000ff" stroke-width="1"/>
<rect x="558" y="298" width="32" height="32" fill="#99ccff" />
<rect x="558" y="298" width="32" height="1" fill="#000" />
<rect x="558" y="298" width="1" height="32" fill="#000" />
<rect x="559" y="299" width="30" height="2" fill="#ffffff" />
<rect x="559" y="299" width="2" height="30" fill="#e6ffff" />
<rect x="561" y="301" width="27" height="6" fill="#00ff99" />
<rect x="560" y="307" width="28" height="1" fill="#3399ff" />
<rect x="560" y="308" width="28" height="1" fill="#ccffff" />
<rect x="588" y="300" width="1" height="29" fill="#3a6cff" />
<rect x="560" y="328" width="29" height="1" fill="#3388ff" />
<rect x="589" y="299" width="1" height="31" fill="#0000ff" />
<rect x="559" y="329" width="31" height="1" fill="#0000ff" />
<text x="567" y="306" font-size="5.5" fill="#000" textLength="14.7" lengthAdjust="spacingAndGlyphs" font-weight="bold" stroke="#000" stroke-width="0.3">F I P</text>
<text x="561.7" y="315.7" font-size="6.2" fill="#000" textLength="18.3" lengthAdjust="spacingAndGlyphs" font-weight="bold" stroke="#000" stroke-width="0.35">READ</text>
<text x="572.8" y="324.6" font-size="6.2" fill="#000" textLength="14" lengthAdjust="spacingAndGlyphs" font-weight="bold" stroke="#000" stroke-width="0.35">VAR</text>
<polyline points="590,302.5 605.5,302.5 605.5,326.5 609,326.5" fill="none" stroke-linejoin="miter" stroke-linecap="butt" stroke="#ff00ff" stroke-width="3"/>
<polyline points="590,302.5 605.5,302.5 605.5,326.5 609,326.5" fill="none" stroke-linejoin="miter" stroke-linecap="butt" stroke="#fff" stroke-width="1" stroke-dasharray="2 2" stroke-dashoffset="1"/>
<polyline points="612,326.5 618,326.5" fill="none" stroke-linejoin="miter" stroke-linecap="butt" stroke="#ff00ff" stroke-width="3"/>
<polyline points="612,326.5 618,326.5" fill="none" stroke-linejoin="miter" stroke-linecap="butt" stroke="#fff" stroke-width="1" stroke-dasharray="2 2" stroke-dashoffset="1"/>
<text x="618" y="305" font-size="12" fill="#000" textLength="53" lengthAdjust="spacingAndGlyphs" >ID(0x8427)</text>
<rect x="617" y="309" width="42" height="27" fill="#4d4d40" />
<rect x="618" y="310" width="40" height="8" fill="#ffffcc" />
<rect x="630" y="310" width="16" height="8" fill="#fff" />
<rect x="630" y="311" width="16" height="5" fill="#ff00ff" />
<rect x="618" y="318" width="40" height="1" fill="#000" />
<rect x="618" y="319" width="40" height="16" fill="#fff" />
<rect x="621" y="311" width="2" height="1" fill="#000" />
<rect x="622" y="312" width="1" height="2" fill="#000" />
<rect x="621" y="314" width="1" height="1" fill="#000" />
<rect x="621" y="316" width="1" height="1" fill="#000" />
<rect x="624" y="311" width="2" height="4" fill="#000" />
<rect x="624" y="316" width="2" height="1" fill="#000" />
<rect x="651" y="311" width="2" height="1" fill="#000" />
<rect x="652" y="312" width="1" height="2" fill="#000" />
<rect x="651" y="314" width="1" height="1" fill="#000" />
<rect x="651" y="316" width="1" height="1" fill="#000" />
<rect x="654" y="311" width="2" height="4" fill="#000" />
<rect x="654" y="316" width="2" height="1" fill="#000" />
<text x="623.4" y="331" font-size="12" fill="#ff00ff" textLength="33.5" lengthAdjust="spacingAndGlyphs" >Valeur</text>
<polygon points="619,323 622.5,326.5 619,330" fill="#000" shape-rendering="auto"/>
<polyline points="610.5,280 610.5,413.5 620,413.5" fill="none" stroke-linejoin="miter" stroke-linecap="butt" stroke="#0000ff" stroke-width="1"/>
<path d="M618 386h346v175h-346z M624 392v163h334v-163z" fill="url(#chk)" fill-rule="evenodd"/>
<path d="M618 386h346v175h-346z M619 387v173h344v-173z" fill="#000" fill-rule="evenodd"/>
<path d="M623 391h336v165h-336z M624 392v163h334v-163z" fill="#555" fill-rule="evenodd" opacity="0.0"/>
<rect x="760" y="386" width="61" height="15" fill="#000" />
<rect x="761" y="387" width="59" height="13" fill="#fff" />
<rect x="768" y="386" width="1" height="15" fill="#000" />
<rect x="812" y="386" width="1" height="15" fill="#000" />
<polygon points="766.5,389.5 766.5,397.5 762,393.5" fill="#000" shape-rendering="auto"/>
<polygon points="814.5,389.5 814.5,397.5 819,393.5" fill="#000" shape-rendering="auto"/>
<polygon points="803,391.5 810,391.5 806.5,395.5" fill="#000" shape-rendering="auto"/>
<text x="772" y="398" font-size="12" fill="#000" textLength="20" lengthAdjust="spacingAndGlyphs" >Vrai</text>
<rect x="618" y="461" width="8" height="12" fill="#008000" />
<rect x="619" y="462" width="6" height="10" fill="#ffffe0" />
<rect x="621" y="463" width="1" height="1" fill="#008000" />
<rect x="622" y="463" width="1" height="1" fill="#008000" />
<rect x="620" y="464" width="1" height="1" fill="#008000" />
<rect x="623" y="464" width="1" height="1" fill="#008000" />
<rect x="623" y="465" width="1" height="1" fill="#008000" />
<rect x="622" y="466" width="1" height="1" fill="#008000" />
<rect x="621" y="467" width="1" height="1" fill="#008000" />
<rect x="621" y="468" width="1" height="1" fill="#008000" />
<rect x="621" y="470" width="1" height="1" fill="#008000" />
<polyline points="627,413.5 633.5,413.5 633.5,453.5 810.5,453.5 810.5,503.5 817,503.5" fill="none" stroke-linejoin="miter" stroke-linecap="butt" stroke="#0000ff" stroke-width="1"/>
<rect x="700" y="411" width="188" height="17" fill="#000" />
<rect x="701" y="412" width="186" height="15" fill="#ffffcc" />
<text x="702.6" y="424" font-size="12" fill="#000" textLength="182.6" lengthAdjust="spacingAndGlyphs" >Send Message - Push Button Event</text>
<rect x="656" y="434" width="299" height="17" fill="#000" />
<rect x="657" y="435" width="297" height="15" fill="#ffffcc" />
<text x="658.6" y="447" font-size="12" fill="#000" textLength="293.6" lengthAdjust="spacingAndGlyphs" >Aper. Message Request (CH0) - ID(0x8426) -&gt; ID(0x8427)</text>
<rect x="769" y="458" width="13" height="19" fill="#0000ff" />
<rect x="771" y="460" width="9" height="15" fill="#fff" />
<text x="775.5" y="471.6" font-size="12" fill="#000" text-anchor="middle" >0</text>
<polyline points="782,467.5 805.5,467.5 805.5,511.5 817,511.5" fill="none" stroke-linejoin="miter" stroke-linecap="butt" stroke="#0000ff" stroke-width="1"/>
<text x="650" y="499" font-size="12" fill="#000" textLength="126" lengthAdjust="spacingAndGlyphs" >ID(0x8426) -&gt; ID(0x8427)</text>
<polyline points="627,487.5 643.5,487.5 643.5,527.5 743,527.5" fill="none" stroke-linejoin="miter" stroke-linecap="butt" stroke="#808000" stroke-width="3"/>
<polyline points="627,487.5 643.5,487.5 643.5,527.5 743,527.5" fill="none" stroke-linejoin="miter" stroke-linecap="butt" stroke="#ffff00" stroke-width="1"/>
<polyline points="627,487.5 643.5,487.5 643.5,527.5 743,527.5" fill="none" stroke-linejoin="miter" stroke-linecap="butt" stroke="#000" stroke-width="1" stroke-dasharray="2 2"/>
<polyline points="784,527.5 817,527.5" fill="none" stroke-linejoin="miter" stroke-linecap="butt" stroke="#808000" stroke-width="3"/>
<polyline points="784,527.5 817,527.5" fill="none" stroke-linejoin="miter" stroke-linecap="butt" stroke="#ffff00" stroke-width="1"/>
<polyline points="784,527.5 817,527.5" fill="none" stroke-linejoin="miter" stroke-linecap="butt" stroke="#000" stroke-width="1" stroke-dasharray="2 2"/>
<rect x="742" y="503" width="42" height="27" fill="#4d4d40" />
<rect x="743" y="504" width="40" height="8" fill="#ffffcc" />
<rect x="755" y="504" width="16" height="8" fill="#fff" />
<rect x="755" y="505" width="16" height="5" fill="#ff00ff" />
<rect x="743" y="512" width="40" height="1" fill="#000" />
<rect x="743" y="513" width="40" height="16" fill="#fff" />
<rect x="746" y="505" width="2" height="1" fill="#000" />
<rect x="747" y="506" width="1" height="2" fill="#000" />
<rect x="746" y="508" width="1" height="1" fill="#000" />
<rect x="746" y="510" width="1" height="1" fill="#000" />
<rect x="749" y="505" width="2" height="4" fill="#000" />
<rect x="749" y="510" width="2" height="1" fill="#000" />
<rect x="776" y="505" width="2" height="1" fill="#000" />
<rect x="777" y="506" width="1" height="2" fill="#000" />
<rect x="776" y="508" width="1" height="1" fill="#000" />
<rect x="776" y="510" width="1" height="1" fill="#000" />
<rect x="779" y="505" width="2" height="4" fill="#000" />
<rect x="779" y="510" width="2" height="1" fill="#000" />
<text x="744" y="525" font-size="12" fill="#ff00ff" textLength="33" lengthAdjust="spacingAndGlyphs" >Valeur</text>
<polygon points="779,517 782.5,520.5 779,524" fill="#000" shape-rendering="auto"/>
<polyline points="784,520.5 793.5,520.5 793.5,519.5 817,519.5" fill="none" stroke-linejoin="miter" stroke-linecap="butt" stroke="#ff00ff" stroke-width="3"/>
<polyline points="784,520.5 793.5,520.5 793.5,519.5 817,519.5" fill="none" stroke-linejoin="miter" stroke-linecap="butt" stroke="#fff" stroke-width="1" stroke-dasharray="2 2" stroke-dashoffset="1"/>
<rect x="816" y="499" width="32" height="32" fill="#99ccff" />
<rect x="816" y="499" width="32" height="1" fill="#000" />
<rect x="816" y="499" width="1" height="32" fill="#000" />
<rect x="817" y="500" width="30" height="2" fill="#ffffff" />
<rect x="817" y="500" width="2" height="30" fill="#e6ffff" />
<rect x="819" y="502" width="27" height="6" fill="#00ff99" />
<rect x="818" y="508" width="28" height="1" fill="#3399ff" />
<rect x="818" y="509" width="28" height="1" fill="#ccffff" />
<rect x="846" y="501" width="1" height="29" fill="#3a6cff" />
<rect x="818" y="529" width="29" height="1" fill="#3388ff" />
<rect x="847" y="500" width="1" height="31" fill="#0000ff" />
<rect x="817" y="530" width="31" height="1" fill="#0000ff" />
<text x="825" y="507" font-size="5.5" fill="#000" textLength="14.7" lengthAdjust="spacingAndGlyphs" font-weight="bold" stroke="#000" stroke-width="0.3">F I P</text>
<text x="821" y="516.9" font-size="5.5" fill="#000" textLength="22" lengthAdjust="spacingAndGlyphs" font-weight="bold" stroke="#000" stroke-width="0.35">WRITE</text>
<text x="825.2" y="524.8" font-size="6" fill="#000" textLength="15" lengthAdjust="spacingAndGlyphs" font-weight="bold" stroke="#000" stroke-width="0.35">MSG</text>
<polyline points="848,527.5 854.5,527.5 854.5,515.5 957,515.5" fill="none" stroke-linejoin="miter" stroke-linecap="butt" stroke="#808000" stroke-width="3"/>
<polyline points="848,527.5 854.5,527.5 854.5,515.5 957,515.5" fill="none" stroke-linejoin="miter" stroke-linecap="butt" stroke="#ffff00" stroke-width="1"/>
<polyline points="848,527.5 854.5,527.5 854.5,515.5 957,515.5" fill="none" stroke-linejoin="miter" stroke-linecap="butt" stroke="#000" stroke-width="1" stroke-dasharray="2 2"/>
<polyline points="964,515.5 989,515.5" fill="none" stroke-linejoin="miter" stroke-linecap="butt" stroke="#808000" stroke-width="3"/>
<polyline points="964,515.5 989,515.5" fill="none" stroke-linejoin="miter" stroke-linecap="butt" stroke="#ffff00" stroke-width="1"/>
<polyline points="964,515.5 989,515.5" fill="none" stroke-linejoin="miter" stroke-linecap="butt" stroke="#000" stroke-width="1" stroke-dasharray="2 2"/>
<text x="479" y="475" font-size="12" fill="#000" textLength="75" lengthAdjust="spacingAndGlyphs" >Send Message</text>
<rect x="512" y="479" width="38" height="38" fill="#008000" />
<rect x="514" y="481" width="34" height="34" fill="#fff" />
<rect x="515" y="482" width="32" height="32" fill="#008000" />
<rect x="516" y="483" width="30" height="30" fill="#e0e0e0" />
<rect x="517" y="491" width="28" height="15" fill="#8c8c8c" />
<rect x="518" y="492" width="26" height="12" fill="url(#dith)" />
<text x="525.8" y="501.4" font-size="7.5" fill="#000" textLength="9.4" lengthAdjust="spacingAndGlyphs" stroke="#000" stroke-width="0.450">OK</text>
<polygon points="544.5,494.5 549,498.5 544.5,502.5" fill="#fff" stroke="#000" stroke-width="1" shape-rendering="auto"/>
<rect x="523" y="508" width="17" height="9" fill="#008000" />
<rect x="524.5" y="509.5" width="14" height="6.5" fill="#fff" shape-rendering="auto"/>
<rect x="525" y="510" width="5" height="1" fill="#008000" />
<rect x="527" y="511" width="1" height="1" fill="#008000" />
<rect x="527" y="512" width="1" height="1" fill="#008000" />
<rect x="527" y="513" width="1" height="1" fill="#008000" />
<rect x="527" y="514" width="1" height="1" fill="#008000" />
<rect x="532" y="510" width="4" height="1" fill="#008000" />
<rect x="532" y="511" width="1" height="1" fill="#008000" />
<rect x="532" y="512" width="3" height="1" fill="#008000" />
<rect x="532" y="513" width="1" height="1" fill="#008000" />
<rect x="532" y="514" width="1" height="1" fill="#008000" />
<rect x="596" y="466" width="3" height="3" fill="#fff" />
<polyline points="550,498.5 588.5,498.5 588.5,467.5 619,467.5" fill="none" stroke-linejoin="miter" stroke-linecap="butt" stroke="#008000" stroke-width="1" stroke-dasharray="1 1"/>
<text x="905" y="305" font-size="12" fill="#000" textLength="57" lengthAdjust="spacingAndGlyphs" >Send Aper.</text>
<rect x="904" y="309" width="38" height="38" fill="#008000" />
<rect x="906" y="311" width="34" height="34" fill="#fff" />
<rect x="907" y="312" width="32" height="32" fill="#008000" />
<rect x="908" y="313" width="30" height="30" fill="#e0e0e0" />
<rect x="909" y="321" width="28" height="15" fill="#8c8c8c" />
<rect x="910" y="322" width="26" height="12" fill="url(#dith)" />
<text x="917.8" y="331.4" font-size="7.5" fill="#000" textLength="9.4" lengthAdjust="spacingAndGlyphs" stroke="#000" stroke-width="0.450">OK</text>
<polygon points="936.5,324.5 941,328.5 936.5,332.5" fill="#fff" stroke="#000" stroke-width="1" shape-rendering="auto"/>
<rect x="915" y="338" width="17" height="9" fill="#008000" />
<rect x="916.5" y="339.5" width="14" height="6.5" fill="#fff" shape-rendering="auto"/>
<rect x="917" y="340" width="5" height="1" fill="#008000" />
<rect x="919" y="341" width="1" height="1" fill="#008000" />
<rect x="919" y="342" width="1" height="1" fill="#008000" />
<rect x="919" y="343" width="1" height="1" fill="#008000" />
<rect x="919" y="344" width="1" height="1" fill="#008000" />
<rect x="924" y="340" width="4" height="1" fill="#008000" />
<rect x="924" y="341" width="1" height="1" fill="#008000" />
<rect x="924" y="342" width="3" height="1" fill="#008000" />
<rect x="924" y="343" width="1" height="1" fill="#008000" />
<rect x="924" y="344" width="1" height="1" fill="#008000" />
<polyline points="942,328.5 956.5,328.5 956.5,350.5 988,350.5" fill="none" stroke-linejoin="miter" stroke-linecap="butt" stroke="#008000" stroke-width="1" stroke-dasharray="1 1"/>
<rect x="967" y="350" width="3" height="1" fill="#fff" />
<polyline points="968.5,280 968.5,395.5 989,395.5" fill="none" stroke-linejoin="miter" stroke-linecap="butt" stroke="#0000ff" stroke-width="1"/>
<path d="M987 322h265v212h-265z M993 328v200h253v-200z" fill="url(#chk)" fill-rule="evenodd"/>
<path d="M987 322h265v212h-265z M988 323v210h263v-210z" fill="#000" fill-rule="evenodd"/>
<path d="M992 327h255v202h-255z M993 328v200h253v-200z" fill="#555" fill-rule="evenodd" opacity="0.0"/>
<rect x="1089" y="322" width="61" height="16" fill="#000" />
<rect x="1090" y="323" width="59" height="14" fill="#fff" />
<rect x="1097" y="322" width="1" height="16" fill="#000" />
<rect x="1141" y="322" width="1" height="16" fill="#000" />
<polygon points="1095.5,325.5 1095.5,333.5 1091,329.5" fill="#000" shape-rendering="auto"/>
<polygon points="1143.5,325.5 1143.5,333.5 1148,329.5" fill="#000" shape-rendering="auto"/>
<polygon points="1132,327.5 1139,327.5 1135.5,331.5" fill="#000" shape-rendering="auto"/>
<text x="1101" y="334" font-size="12" fill="#000" textLength="20" lengthAdjust="spacingAndGlyphs" >Vrai</text>
<rect x="987" y="344" width="8" height="12" fill="#008000" />
<rect x="988" y="345" width="6" height="10" fill="#ffffe0" />
<rect x="990" y="346" width="1" height="1" fill="#008000" />
<rect x="991" y="346" width="1" height="1" fill="#008000" />
<rect x="989" y="347" width="1" height="1" fill="#008000" />
<rect x="992" y="347" width="1" height="1" fill="#008000" />
<rect x="992" y="348" width="1" height="1" fill="#008000" />
<rect x="991" y="349" width="1" height="1" fill="#008000" />
<rect x="990" y="350" width="1" height="1" fill="#008000" />
<rect x="990" y="351" width="1" height="1" fill="#008000" />
<rect x="990" y="353" width="1" height="1" fill="#008000" />
<rect x="1037" y="351" width="209" height="17" fill="#000" />
<rect x="1038" y="352" width="207" height="15" fill="#ffffcc" />
<text x="1039.6" y="364" font-size="12" fill="#000" textLength="203.6" lengthAdjust="spacingAndGlyphs" >Aperiodic Request - Push Button Event</text>
<rect x="994" y="373" width="247" height="17" fill="#000" />
<rect x="995" y="374" width="245" height="15" fill="#ffffcc" />
<text x="996.6" y="386" font-size="12" fill="#000" textLength="241.6" lengthAdjust="spacingAndGlyphs" >Aper. Variable Request (Urgent: 1) - ID(0x8322)</text>
<polyline points="996,395.5 1175.5,395.5 1175.5,481.5 1182,481.5" fill="none" stroke-linejoin="miter" stroke-linecap="butt" stroke="#0000ff" stroke-width="1"/>
<rect x="1114" y="413" width="31" height="19" fill="#0000ff" />
<rect x="1116" y="415" width="27" height="15" fill="#fff" />
<text x="1129.5" y="426.6" font-size="12" fill="#000" textLength="24" lengthAdjust="spacingAndGlyphs" text-anchor="middle" >8322</text>
<polyline points="1145,422.5 1164.5,422.5 1164.5,489.5 1182,489.5" fill="none" stroke-linejoin="miter" stroke-linecap="butt" stroke="#0000ff" stroke-width="1"/>
<rect x="1132" y="440" width="13" height="19" fill="#0000ff" />
<rect x="1134" y="442" width="9" height="15" fill="#fff" />
<text x="1138.5" y="453.6" font-size="12" fill="#000" text-anchor="middle" >1</text>
<polyline points="1145,449.5 1158.5,449.5 1158.5,497.5 1182,497.5" fill="none" stroke-linejoin="miter" stroke-linecap="butt" stroke="#0000ff" stroke-width="1"/>
<polyline points="996,515.5 1173.5,515.5 1173.5,505.5 1182,505.5" fill="none" stroke-linejoin="miter" stroke-linecap="butt" stroke="#808000" stroke-width="3"/>
<polyline points="996,515.5 1173.5,515.5 1173.5,505.5 1182,505.5" fill="none" stroke-linejoin="miter" stroke-linecap="butt" stroke="#ffff00" stroke-width="1"/>
<polyline points="996,515.5 1173.5,515.5 1173.5,505.5 1182,505.5" fill="none" stroke-linejoin="miter" stroke-linecap="butt" stroke="#000" stroke-width="1" stroke-dasharray="2 2"/>
<rect x="1181" y="477" width="32" height="32" fill="#99ccff" />
<rect x="1181" y="477" width="32" height="1" fill="#000" />
<rect x="1181" y="477" width="1" height="32" fill="#000" />
<rect x="1182" y="478" width="30" height="2" fill="#ffffff" />
<rect x="1182" y="478" width="2" height="30" fill="#e6ffff" />
<rect x="1184" y="480" width="27" height="6" fill="#00ff99" />
<rect x="1183" y="486" width="28" height="1" fill="#3399ff" />
<rect x="1183" y="487" width="28" height="1" fill="#ccffff" />
<rect x="1211" y="479" width="1" height="29" fill="#3a6cff" />
<rect x="1183" y="507" width="29" height="1" fill="#3388ff" />
<rect x="1212" y="478" width="1" height="31" fill="#0000ff" />
<rect x="1182" y="508" width="31" height="1" fill="#0000ff" />
<text x="1190" y="485" font-size="5.5" fill="#000" textLength="14.7" lengthAdjust="spacingAndGlyphs" font-weight="bold" stroke="#000" stroke-width="0.3">F I P</text>
<text x="1185.1" y="494.9" font-size="5.5" fill="#000" textLength="18.3" lengthAdjust="spacingAndGlyphs" font-weight="bold" stroke="#000" stroke-width="0.35">SEND</text>
<text x="1191.1" y="503.8" font-size="6" fill="#000" textLength="18" lengthAdjust="spacingAndGlyphs" font-weight="bold" stroke="#000" stroke-width="0.35">APER</text>
<polyline points="1213,505.5 1245,505.5" fill="none" stroke-linejoin="miter" stroke-linecap="butt" stroke="#808000" stroke-width="3"/>
<polyline points="1213,505.5 1245,505.5" fill="none" stroke-linejoin="miter" stroke-linecap="butt" stroke="#ffff00" stroke-width="1"/>
<polyline points="1213,505.5 1245,505.5" fill="none" stroke-linejoin="miter" stroke-linecap="butt" stroke="#000" stroke-width="1" stroke-dasharray="2 2"/>
<polyline points="1291,325.5 1300.5,325.5 1300.5,426.5 1312,426.5" fill="none" stroke-linejoin="miter" stroke-linecap="butt" stroke="#008000" stroke-width="1" stroke-dasharray="1 1"/>
<rect x="1300" y="409" width="1" height="5" fill="#fff" />
<polyline points="1252,503.5 1265.5,503.5 1265.5,411.5 1312,411.5" fill="none" stroke-linejoin="miter" stroke-linecap="butt" stroke="#808000" stroke-width="3"/>
<polyline points="1252,503.5 1265.5,503.5 1265.5,411.5 1312,411.5" fill="none" stroke-linejoin="miter" stroke-linecap="butt" stroke="#ffff00" stroke-width="1"/>
<polyline points="1252,503.5 1265.5,503.5 1265.5,411.5 1312,411.5" fill="none" stroke-linejoin="miter" stroke-linecap="butt" stroke="#000" stroke-width="1" stroke-dasharray="2 2"/>
<text x="1176" y="302" font-size="12" fill="#000" textLength="133" lengthAdjust="spacingAndGlyphs" >Send Medium Command</text>
<rect x="1253" y="306" width="38" height="38" fill="#008000" />
<rect x="1255" y="308" width="34" height="34" fill="#fff" />
<rect x="1256" y="309" width="32" height="32" fill="#008000" />
<rect x="1257" y="310" width="30" height="30" fill="#e0e0e0" />
<rect x="1258" y="318" width="28" height="15" fill="#8c8c8c" />
<rect x="1259" y="319" width="26" height="12" fill="url(#dith)" />
<text x="1266.8" y="328.4" font-size="7.5" fill="#000" textLength="9.4" lengthAdjust="spacingAndGlyphs" stroke="#000" stroke-width="0.450">OK</text>
<polygon points="1285.5,321.5 1290,325.5 1285.5,329.5" fill="#fff" stroke="#000" stroke-width="1" shape-rendering="auto"/>
<rect x="1264" y="335" width="17" height="9" fill="#008000" />
<rect x="1265.5" y="336.5" width="14" height="6.5" fill="#fff" shape-rendering="auto"/>
<rect x="1266" y="337" width="5" height="1" fill="#008000" />
<rect x="1268" y="338" width="1" height="1" fill="#008000" />
<rect x="1268" y="339" width="1" height="1" fill="#008000" />
<rect x="1268" y="340" width="1" height="1" fill="#008000" />
<rect x="1268" y="341" width="1" height="1" fill="#008000" />
<rect x="1273" y="337" width="4" height="1" fill="#008000" />
<rect x="1273" y="338" width="1" height="1" fill="#008000" />
<rect x="1273" y="339" width="3" height="1" fill="#008000" />
<rect x="1273" y="340" width="1" height="1" fill="#008000" />
<rect x="1273" y="341" width="1" height="1" fill="#008000" />
<polyline points="1306.5,280 1306.5,377.5 1313,377.5" fill="none" stroke-linejoin="miter" stroke-linecap="butt" stroke="#0000ff" stroke-width="1"/>
<path d="M1311 337h299v117h-299z M1317 343v105h287v-105z" fill="url(#chk)" fill-rule="evenodd"/>
<path d="M1311 337h299v117h-299z M1312 338v115h297v-115z" fill="#000" fill-rule="evenodd"/>
<path d="M1316 342h289v107h-289z M1317 343v105h287v-105z" fill="#555" fill-rule="evenodd" opacity="0.0"/>
<rect x="1430" y="337" width="61" height="15" fill="#000" />
<rect x="1431" y="338" width="59" height="13" fill="#fff" />
<rect x="1438" y="337" width="1" height="15" fill="#000" />
<rect x="1482" y="337" width="1" height="15" fill="#000" />
<polygon points="1436.5,340.5 1436.5,348.5 1432,344.5" fill="#000" shape-rendering="auto"/>
<polygon points="1484.5,340.5 1484.5,348.5 1489,344.5" fill="#000" shape-rendering="auto"/>
<polygon points="1473,342.5 1480,342.5 1476.5,346.5" fill="#000" shape-rendering="auto"/>
<text x="1442" y="349" font-size="12" fill="#000" textLength="20" lengthAdjust="spacingAndGlyphs" >Vrai</text>
<rect x="1311" y="420" width="8" height="12" fill="#008000" />
<rect x="1312" y="421" width="6" height="10" fill="#ffffe0" />
<rect x="1314" y="422" width="1" height="1" fill="#008000" />
<rect x="1315" y="422" width="1" height="1" fill="#008000" />
<rect x="1313" y="423" width="1" height="1" fill="#008000" />
<rect x="1316" y="423" width="1" height="1" fill="#008000" />
<rect x="1316" y="424" width="1" height="1" fill="#008000" />
<rect x="1315" y="425" width="1" height="1" fill="#008000" />
<rect x="1314" y="426" width="1" height="1" fill="#008000" />
<rect x="1314" y="427" width="1" height="1" fill="#008000" />
<rect x="1314" y="429" width="1" height="1" fill="#008000" />
<rect x="1380" y="359" width="218" height="17" fill="#000" />
<rect x="1381" y="360" width="216" height="15" fill="#ffffcc" />
<text x="1382.6" y="372" font-size="12" fill="#000" textLength="212.6" lengthAdjust="spacingAndGlyphs" >Medium Command - Push Button Event</text>
<polyline points="1319,377.5 1553.5,377.5 1553.5,401.5 1559,401.5" fill="none" stroke-linejoin="miter" stroke-linecap="butt" stroke="#0000ff" stroke-width="1"/>
<text x="1446" y="392" font-size="12" fill="#000" textLength="102" lengthAdjust="spacingAndGlyphs" >medium command</text>
<polyline points="1319,412.5 1478.5,412.5 1478.5,422.5 1494,422.5" fill="none" stroke-linejoin="miter" stroke-linecap="butt" stroke="#808000" stroke-width="3"/>
<polyline points="1319,412.5 1478.5,412.5 1478.5,422.5 1494,422.5" fill="none" stroke-linejoin="miter" stroke-linecap="butt" stroke="#ffff00" stroke-width="1"/>
<polyline points="1319,412.5 1478.5,412.5 1478.5,422.5 1494,422.5" fill="none" stroke-linejoin="miter" stroke-linecap="butt" stroke="#000" stroke-width="1" stroke-dasharray="2 2"/>
<polyline points="1535,422.5 1559,422.5" fill="none" stroke-linejoin="miter" stroke-linecap="butt" stroke="#808000" stroke-width="3"/>
<polyline points="1535,422.5 1559,422.5" fill="none" stroke-linejoin="miter" stroke-linecap="butt" stroke="#ffff00" stroke-width="1"/>
<polyline points="1535,422.5 1559,422.5" fill="none" stroke-linejoin="miter" stroke-linecap="butt" stroke="#000" stroke-width="1" stroke-dasharray="2 2"/>
<rect x="1493" y="396" width="42" height="27" fill="#4d4d40" />
<rect x="1494" y="397" width="40" height="8" fill="#ffffcc" />
<rect x="1506" y="397" width="16" height="8" fill="#fff" />
<rect x="1506" y="398" width="16" height="5" fill="#0000ff" />
<rect x="1494" y="405" width="40" height="1" fill="#000" />
<rect x="1494" y="406" width="40" height="16" fill="#fff" />
<rect x="1497" y="398" width="2" height="1" fill="#000" />
<rect x="1498" y="399" width="1" height="2" fill="#000" />
<rect x="1497" y="401" width="1" height="1" fill="#000" />
<rect x="1497" y="403" width="1" height="1" fill="#000" />
<rect x="1500" y="398" width="2" height="4" fill="#000" />
<rect x="1500" y="403" width="2" height="1" fill="#000" />
<rect x="1527" y="398" width="2" height="1" fill="#000" />
<rect x="1528" y="399" width="1" height="2" fill="#000" />
<rect x="1527" y="401" width="1" height="1" fill="#000" />
<rect x="1527" y="403" width="1" height="1" fill="#000" />
<rect x="1530" y="398" width="2" height="4" fill="#000" />
<rect x="1530" y="403" width="2" height="1" fill="#000" />
<text x="1495" y="418" font-size="12" fill="#0000ff" textLength="33" lengthAdjust="spacingAndGlyphs" >Valeur</text>
<polygon points="1530,410 1533.5,413.5 1530,417" fill="#000" shape-rendering="auto"/>
<polyline points="1535,413.5 1541.5,413.5 1541.5,412.5 1559,412.5" fill="none" stroke-linejoin="miter" stroke-linecap="butt" stroke="#0000ff" stroke-width="1"/>
<rect x="1558" y="396" width="32" height="32" fill="#99ccff" />
<rect x="1558" y="396" width="32" height="1" fill="#000" />
<rect x="1558" y="396" width="1" height="32" fill="#000" />
<rect x="1559" y="397" width="30" height="2" fill="#ffffff" />
<rect x="1559" y="397" width="2" height="30" fill="#e6ffff" />
<rect x="1561" y="399" width="27" height="6" fill="#00ff99" />
<rect x="1560" y="405" width="28" height="1" fill="#3399ff" />
<rect x="1560" y="406" width="28" height="1" fill="#ccffff" />
<rect x="1588" y="398" width="1" height="29" fill="#3a6cff" />
<rect x="1560" y="426" width="29" height="1" fill="#3388ff" />
<rect x="1589" y="397" width="1" height="31" fill="#0000ff" />
<rect x="1559" y="427" width="31" height="1" fill="#0000ff" />
<text x="1567" y="404" font-size="5.5" fill="#000" textLength="14.7" lengthAdjust="spacingAndGlyphs" font-weight="bold" stroke="#000" stroke-width="0.3">F I P</text>
<text x="1566.9" y="413.4" font-size="5.8" fill="#000" textLength="12.8" lengthAdjust="spacingAndGlyphs" font-weight="bold" stroke="#000" stroke-width="0.35">SET</text>
<text x="1561.1" y="421.8" font-size="5.3" fill="#000" textLength="26.8" lengthAdjust="spacingAndGlyphs" font-weight="bold" stroke="#000" stroke-width="0.35">MEDIUM</text>
<polyline points="1590,422.5 1596.5,422.5 1596.5,412.5 1603,412.5" fill="none" stroke-linejoin="miter" stroke-linecap="butt" stroke="#808000" stroke-width="3"/>
<polyline points="1590,422.5 1596.5,422.5 1596.5,412.5 1603,412.5" fill="none" stroke-linejoin="miter" stroke-linecap="butt" stroke="#ffff00" stroke-width="1"/>
<polyline points="1590,422.5 1596.5,422.5 1596.5,412.5 1603,412.5" fill="none" stroke-linejoin="miter" stroke-linecap="butt" stroke="#000" stroke-width="1" stroke-dasharray="2 2"/>
<polyline points="1610,412.5 1631,412.5" fill="none" stroke-linejoin="miter" stroke-linecap="butt" stroke="#808000" stroke-width="3"/>
<polyline points="1610,412.5 1631,412.5" fill="none" stroke-linejoin="miter" stroke-linecap="butt" stroke="#ffff00" stroke-width="1"/>
<polyline points="1610,412.5 1631,412.5" fill="none" stroke-linejoin="miter" stroke-linecap="butt" stroke="#000" stroke-width="1" stroke-dasharray="2 2"/>
<text x="1555" y="295" font-size="12" fill="#000" textLength="100" lengthAdjust="spacingAndGlyphs" >Fip Network Status</text>
<rect x="1610" y="299" width="42" height="27" fill="#4d4d40" />
<rect x="1611" y="300" width="40" height="8" fill="#ffffcc" />
<rect x="1623" y="300" width="16" height="8" fill="#fff" />
<rect x="1623" y="301" width="16" height="5" fill="#ff00ff" />
<rect x="1611" y="308" width="40" height="1" fill="#000" />
<rect x="1611" y="309" width="40" height="16" fill="#fff" />
<rect x="1614" y="301" width="2" height="1" fill="#000" />
<rect x="1615" y="302" width="1" height="2" fill="#000" />
<rect x="1614" y="304" width="1" height="1" fill="#000" />
<rect x="1614" y="306" width="1" height="1" fill="#000" />
<rect x="1617" y="301" width="2" height="4" fill="#000" />
<rect x="1617" y="306" width="2" height="1" fill="#000" />
<rect x="1644" y="301" width="2" height="1" fill="#000" />
<rect x="1645" y="302" width="1" height="2" fill="#000" />
<rect x="1644" y="304" width="1" height="1" fill="#000" />
<rect x="1644" y="306" width="1" height="1" fill="#000" />
<rect x="1647" y="301" width="2" height="4" fill="#000" />
<rect x="1647" y="306" width="2" height="1" fill="#000" />
<text x="1612" y="321" font-size="12" fill="#ff00ff" textLength="33" lengthAdjust="spacingAndGlyphs" >Valeur</text>
<polygon points="1647,313 1650.5,316.5 1647,320" fill="#000" shape-rendering="auto"/>
<rect x="9" y="432" width="9" height="9" fill="#55553a" />
<rect x="10" y="433" width="7" height="7" fill="#0000ff" />
<rect x="618" y="409" width="9" height="9" fill="#55553a" />
<rect x="619" y="410" width="7" height="7" fill="#0000ff" />
<rect x="618" y="483" width="9" height="9" fill="#55553a" />
<rect x="619" y="484" width="7" height="7" fill="#808000" />
<rect x="955" y="511" width="9" height="9" fill="#55553a" />
<rect x="956" y="512" width="7" height="7" fill="#808000" />
<rect x="987" y="391" width="9" height="9" fill="#55553a" />
<rect x="988" y="392" width="7" height="7" fill="#0000ff" />
<rect x="987" y="511" width="9" height="9" fill="#55553a" />
<rect x="988" y="512" width="7" height="7" fill="#808000" />
<rect x="1243" y="501" width="9" height="9" fill="#55553a" />
<rect x="1244" y="502" width="7" height="7" fill="#808000" />
<rect x="1311" y="373" width="9" height="9" fill="#55553a" />
<rect x="1312" y="374" width="7" height="7" fill="#0000ff" />
<rect x="1311" y="408" width="9" height="9" fill="#55553a" />
<rect x="1312" y="409" width="7" height="7" fill="#808000" />
<rect x="1601" y="408" width="9" height="9" fill="#55553a" />
<rect x="1602" y="409" width="7" height="7" fill="#808000" />
</g>
<rect x="1519" y="90" width="68" height="149" fill="#000" opacity="0.35" filter="url(#sh)" shape-rendering="auto"/>
<rect x="1519" y="88" width="68" height="150" fill="#f0f0f0" />
<rect x="1519" y="88" width="68" height="27" fill="#fff" />
<text x="1524" y="105" font-size="12" fill="#8fa8c8" textLength="31" lengthAdjust="spacingAndGlyphs" >Outils</text>
<rect x="1567" y="92" width="19" height="19" fill="#e1e1e1" />
<path d="M1574.500 99.500l4 4M1578.500 99.500l-4 4" stroke="#f4f4f4" stroke-width="1" shape-rendering="auto"/>
<rect x="1586" y="115" width="1" height="123" fill="#808080" />
<rect x="1519" y="237" width="68" height="1" fill="#808080" />
<g shape-rendering="auto" fill="none"><path d="M1529.500 120.500l11 11" stroke="#8a8a8a" stroke-width="3.200"/><path d="M1529.500 120.500l11 11" stroke="#e8e8e8" stroke-width="1.400"/><path d="M1541 119.500l-12.500 12.500" stroke="#8a8a8a" stroke-width="3"/><path d="M1541 119.500l-12.500 12.500" stroke="#ececec" stroke-width="1.300"/><circle cx="1541" cy="120" r="2.300" fill="#e8e8e8" stroke="#8a8a8a" stroke-width="1"/><circle cx="1528.500" cy="132" r="2.300" fill="#e8e8e8" stroke="#8a8a8a" stroke-width="1"/><path d="M1535.500 126.500l6 6" stroke="#c01010" stroke-width="3.200"/><path d="M1535.500 126.500l6 6" stroke="#e04040" stroke-width="1"/></g>
<rect x="1551" y="117" width="30" height="14" fill="#a8a8a8" />
<rect x="1552" y="118" width="28" height="12" fill="#8c8c8c" />
<rect x="1553" y="119" width="26" height="10" fill="#505050" />
<rect x="1555" y="120" width="7" height="2" fill="#9a9a9a" />
<rect x="1553" y="127" width="26" height="2" fill="#6a6a6a" />
<rect x="1519" y="136" width="68" height="1" fill="#000" />
<rect x="1519" y="158" width="68" height="1" fill="#000" />
<rect x="1519" y="180" width="68" height="1" fill="#000" />
<rect x="1519" y="202" width="68" height="1" fill="#000" />
<rect x="1519" y="137" width="22" height="21" fill="#f0f0f0" />
<rect x="1519" y="137" width="22" height="1" fill="#fff" />
<rect x="1519" y="137" width="1" height="21" fill="#fff" />
<rect x="1519" y="157" width="22" height="1" fill="#b4b4b4" />
<rect x="1540" y="137" width="1" height="21" fill="#b4b4b4" />
<rect x="1542" y="137" width="22" height="21" fill="#f0f0f0" />
<rect x="1542" y="137" width="22" height="1" fill="#fff" />
<rect x="1542" y="137" width="1" height="21" fill="#fff" />
<rect x="1542" y="157" width="22" height="1" fill="#b4b4b4" />
<rect x="1563" y="137" width="1" height="21" fill="#b4b4b4" />
<rect x="1565" y="137" width="22" height="21" fill="#f0f0f0" />
<rect x="1565" y="137" width="22" height="1" fill="#fff" />
<rect x="1565" y="137" width="1" height="21" fill="#fff" />
<rect x="1565" y="157" width="22" height="1" fill="#b4b4b4" />
<rect x="1586" y="137" width="1" height="21" fill="#b4b4b4" />
<rect x="1541" y="137" width="1" height="21" fill="#000" />
<rect x="1564" y="137" width="1" height="21" fill="#000" />
<rect x="1519" y="159" width="22" height="21" fill="#f0f0f0" />
<rect x="1519" y="159" width="22" height="1" fill="#fff" />
<rect x="1519" y="159" width="1" height="21" fill="#fff" />
<rect x="1519" y="179" width="22" height="1" fill="#b4b4b4" />
<rect x="1540" y="159" width="1" height="21" fill="#b4b4b4" />
<rect x="1542" y="159" width="22" height="21" fill="#f0f0f0" />
<rect x="1542" y="159" width="22" height="1" fill="#fff" />
<rect x="1542" y="159" width="1" height="21" fill="#fff" />
<rect x="1542" y="179" width="22" height="1" fill="#b4b4b4" />
<rect x="1563" y="159" width="1" height="21" fill="#b4b4b4" />
<rect x="1565" y="159" width="22" height="21" fill="#f0f0f0" />
<rect x="1565" y="159" width="22" height="1" fill="#fff" />
<rect x="1565" y="159" width="1" height="21" fill="#fff" />
<rect x="1565" y="179" width="22" height="1" fill="#b4b4b4" />
<rect x="1586" y="159" width="1" height="21" fill="#b4b4b4" />
<rect x="1541" y="159" width="1" height="21" fill="#000" />
<rect x="1564" y="159" width="1" height="21" fill="#000" />
<rect x="1519" y="181" width="22" height="21" fill="#f0f0f0" />
<rect x="1519" y="181" width="22" height="1" fill="#fff" />
<rect x="1519" y="181" width="1" height="21" fill="#fff" />
<rect x="1519" y="201" width="22" height="1" fill="#b4b4b4" />
<rect x="1540" y="181" width="1" height="21" fill="#b4b4b4" />
<rect x="1542" y="181" width="22" height="21" fill="#f0f0f0" />
<rect x="1542" y="181" width="22" height="1" fill="#fff" />
<rect x="1542" y="181" width="1" height="21" fill="#fff" />
<rect x="1542" y="201" width="22" height="1" fill="#b4b4b4" />
<rect x="1563" y="181" width="1" height="21" fill="#b4b4b4" />
<rect x="1565" y="181" width="22" height="21" fill="#f0f0f0" />
<rect x="1565" y="181" width="22" height="1" fill="#fff" />
<rect x="1565" y="181" width="1" height="21" fill="#fff" />
<rect x="1565" y="201" width="22" height="1" fill="#b4b4b4" />
<rect x="1586" y="181" width="1" height="21" fill="#b4b4b4" />
<rect x="1541" y="181" width="1" height="21" fill="#000" />
<rect x="1564" y="181" width="1" height="21" fill="#000" />
<rect x="1542" y="137" width="22" height="21" fill="#808080" />
<rect x="1542" y="137" width="22" height="1" fill="#606060" />
<rect x="1542" y="137" width="1" height="21" fill="#606060" />
<rect x="1519" y="203" width="67" height="1" fill="#fff" />
<g shape-rendering="auto"><path d="M1530 140c1-1 2.500-1 2.500 1v6l1.500-0.500c1 0 1.500 0.500 1.500 1.500c1-0.500 2 0 2 1c1 0 1.500 0.500 1.500 1.500v3c0 2-1.500 3-3 3h-5c-1.500 0-2.500-1-3.500-2.500l-3-4.500c0-1.500 1.500-2 2.500-1l2 2z" fill="#ffcc99" stroke="#000" stroke-width="1"/></g>
<path d="M1549.500 140.500v12l3-3l2.500 5.500l2-1l-2.500-5.500h4z" fill="#fff" stroke="#000" stroke-width="1" shape-rendering="auto"/>
<text x="1567.500" y="154.500" font-size="21" font-family="Liberation Serif, serif" fill="#000" textLength="14.500" lengthAdjust="spacingAndGlyphs">A</text>
<rect x="1582" y="141" width="1" height="1" fill="#000" />
<rect x="1582" y="143" width="1" height="1" fill="#000" />
<rect x="1582" y="145" width="1" height="1" fill="#000" />
<rect x="1582" y="147" width="1" height="1" fill="#000" />
<rect x="1582" y="149" width="1" height="1" fill="#000" />
<rect x="1582" y="151" width="1" height="1" fill="#000" />
<rect x="1582" y="153" width="1" height="1" fill="#000" />
<rect x="1580" y="140" width="2" height="1" fill="#000" />
<rect x="1583" y="140" width="2" height="1" fill="#000" />
<rect x="1580" y="155" width="2" height="1" fill="#000" />
<rect x="1583" y="155" width="2" height="1" fill="#000" />
<g shape-rendering="auto"><path d="M1524 163l6 5" stroke="#000" stroke-width="1.500"/><polygon points="1528,167 1536,163 1538,175 1530,179" fill="#9a6a40" stroke="#000" stroke-width="1"/><path d="M1529 170l8-4M1529.500 173l8-4M1530 176l8-4" stroke="#000" stroke-width="0.800"/></g>
<path d="M1545.500 161.500v7l2-2l1.500 3l1.500-0.800l-1.500-3h3z" fill="#000" shape-rendering="auto"/>
<rect x="1552" y="168" width="10" height="10" fill="#000" />
<rect x="1553" y="169" width="8" height="8" fill="#fff" />
<rect x="1554" y="171" width="6" height="1" fill="#000" />
<rect x="1554" y="173" width="6" height="1" fill="#000" />
<rect x="1554" y="175" width="6" height="1" fill="#000" />
<g shape-rendering="auto"><path d="M1570 170c-1-2-2-5 0-5l1.500 2v-4c0-1.500 2-1.500 2 0c0-1.500 2-1.500 2.200 0c0-1.200 2-1.200 2 0.500c0.500-1 2-0.800 2 0.500v5c0 4-2 7-4 7h-3c-2 0-3.500-3-4.700-6z" fill="#ffcc99" stroke="#000" stroke-width="1"/></g>
<g shape-rendering="auto"><polygon points="1527.500,185 1534,185 1538,189 1538,195.500 1534,199.500 1527.500,199.500 1523.500,195.500 1523.500,189" fill="#fff" stroke="#000" stroke-width="1"/><polygon points="1528.300,186.800 1533.200,186.800 1536.200,189.800 1536.200,194.700 1533.200,197.700 1528.300,197.700 1525.300,194.700 1525.300,189.800" fill="#d02020"/><path d="M1522 183l3 3" stroke="#000" stroke-width="1"/></g>
<g shape-rendering="auto"><path d="M1545 191.500h17" stroke="#000" stroke-width="1"/><circle cx="1553.500" cy="191.500" r="4.600" fill="#ffee00" stroke="#000" stroke-width="1.100"/><polygon points="1544.500,191.500 1548,189.300 1548,193.700" fill="#000"/></g>
<text x="1553.5" y="194.3" font-size="7.5" fill="#000" font-weight="bold" text-anchor="middle" >P</text>
<g shape-rendering="auto"><path d="M1569 198l8-9" stroke="#3050c0" stroke-width="2.500"/><path d="M1573 193l5-5" stroke="#e8e8e8" stroke-width="2"/><circle cx="1580" cy="186.500" r="2.800" fill="#d01030"/><path d="M1577 189l3-3" stroke="#d01030" stroke-width="3"/></g>
<rect x="1535" y="218" width="21" height="19" fill="#000" />
<rect x="1534" y="217" width="20" height="18" fill="#000" />
<rect x="1535" y="218" width="18" height="16" fill="#e2e2e2" />
<rect x="1524" y="207" width="21" height="19" fill="#000" />
<rect x="1522" y="205" width="21" height="19" fill="#000" />
<rect x="1523" y="206" width="19" height="17" fill="#e2e2e2" />
<g shape-rendering="auto"><path d="M1571 219l10-9" stroke="#b08050" stroke-width="3.2"/><path d="M1565.500 224l5.500-5" stroke="#303030" stroke-width="4"/><path d="M1570 220l2-1.800" stroke="#c0c0c0" stroke-width="3.200"/><path d="M1560.500 228.500l5.500-1.500l-2-3z" fill="#ffee00" stroke="#000" stroke-width="0.800"/></g>
</svg></body></html>
